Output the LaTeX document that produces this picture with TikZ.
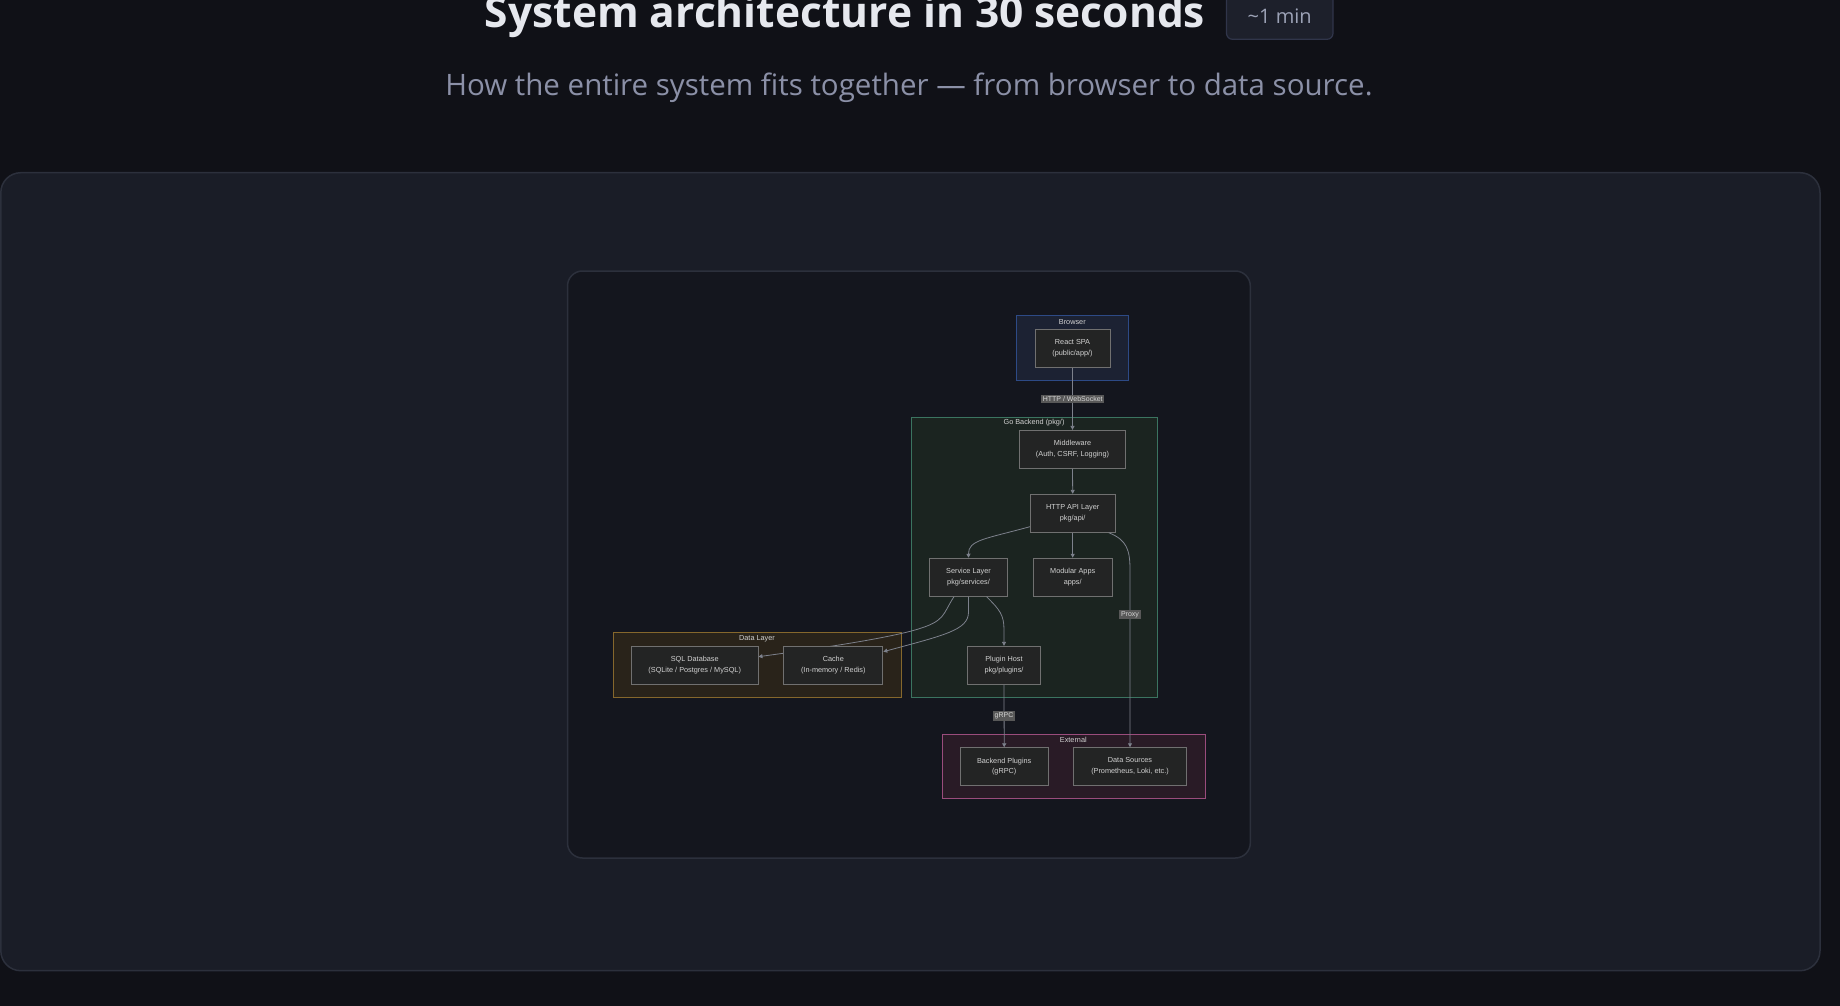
\documentclass[tikz,border=0pt]{standalone}
\usepackage{fontspec}
\setmainfont{Open Sans}
\newfontfamily\dfont{Liberation Sans}
\usetikzlibrary{arrows.meta}
\definecolor{pagebg}{HTML}{101117}
\definecolor{panel}{HTML}{1A1D27}
\definecolor{panelborder}{HTML}{2C303C}
\definecolor{innerbg}{HTML}{14161E}
\definecolor{browserfill}{HTML}{1C2233}
\definecolor{browserborder}{HTML}{2D4A86}
\definecolor{gofill}{HTML}{1B2420}
\definecolor{goborder}{HTML}{3B7460}
\definecolor{datafill}{HTML}{29231A}
\definecolor{databorder}{HTML}{85672C}
\definecolor{extfill}{HTML}{291B26}
\definecolor{extborder}{HTML}{9A4C7C}
\definecolor{nodefill}{HTML}{232424}
\definecolor{nodeborder}{HTML}{707070}
\definecolor{nodetext}{HTML}{D2D2D2}
\definecolor{edgecol}{HTML}{7D818C}
\definecolor{labelbg}{HTML}{585858}
\definecolor{labeltext}{HTML}{D4D4D4}
\definecolor{titletext}{HTML}{E6E8EE}
\definecolor{subtext}{HTML}{8B90A7}
\definecolor{badgefill}{HTML}{1D202B}
\definecolor{badgeborder}{HTML}{30354A}
\definecolor{badgetext}{HTML}{9CA2B6}
\tikzset{
  nodebox/.style={draw=nodeborder, fill=nodefill, line width=0.9pt, text=nodetext,
    font=\dfont\fontsize{7.3}{10.7}\selectfont, align=center, inner sep=0pt,
    minimum height=38pt},
  grpbox/.style={line width=1pt, inner sep=0pt},
  grptitle/.style={text=nodetext, font=\dfont\fontsize{7.3}{9}\selectfont, inner sep=0pt},
  edge/.style={draw=edgecol, line width=0.8pt, -{Triangle[length=4pt,width=4pt]}},
  elabel/.style={fill=labelbg, text=labeltext, font=\dfont\fontsize{7}{8}\selectfont,
    inner sep=1.6pt}
}
\begin{document}
\begin{tikzpicture}[x=1pt,y=-1pt]
\useasboundingbox (0,0) rectangle (1840,1006);
\fill[pagebg] (0,0) rectangle (1840,1006);
% outer panel
\draw[fill=panel, draw=panelborder, line width=1.5pt, rounded corners=20pt] (0.8,172.7) rectangle (1820,970.7);
% inner panel
\draw[fill=innerbg, draw=panelborder, line width=1.5pt, rounded corners=15pt] (567.5,271) rectangle (1250.3,858);
% title
\node[anchor=base, text=titletext, font=\fontsize{42.5}{50}\selectfont\bfseries, inner sep=0pt] (title) at (845,28) {System architecture in 30 seconds};
\draw[fill=badgefill, draw=badgeborder, line width=1.2pt, rounded corners=6pt] (1226.5,-10) rectangle (1333,39.3);
\node[text=badgetext, font=\fontsize{20}{24}\selectfont, inner sep=0pt] (badge) at (1279.7,16) {\char`~1 min};
\node[text=subtext, font=\fontsize{29.5}{35}\selectfont, inner sep=0pt] (subtitle) at (909,88) {How the entire system fits together — from browser to data source.};
% groups
\node[grpbox, draw=browserborder, fill=browserfill, minimum width=112.7pt, minimum height=64.6pt] (gbrowser) at (1072.35,348) {};
\node[grpbox, draw=goborder, fill=gofill, minimum width=245.6pt, minimum height=280pt] (gback) at (1034.5,557.3) {};
\node[grpbox, draw=databorder, fill=datafill, minimum width=288.6pt, minimum height=64.6pt] (gdata) at (757.3,665) {};
\node[grpbox, draw=extborder, fill=extfill, minimum width=263pt, minimum height=64pt] (gext) at (1073.5,766.3) {};
\node[grptitle] (tbrowser) at (1072.3,321.7) {Browser};
\node[grptitle] (tback) at (1034,422.7) {Go Backend (pkg/)};
\node[grptitle] (tdata) at (757,638.3) {Data Layer};
\node[grptitle] (text) at (1073.3,740.3) {External};
% node positions
\coordinate (cspa) at (1072.5,348.2);
\coordinate (cmw) at (1072.5,449.3);
\coordinate (capi) at (1072.7,513.3);
\coordinate (csvc) at (968.5,577.2);
\coordinate (capps) at (1072.7,577.2);
\coordinate (csql) at (694.7,665.3);
\coordinate (ccache) at (833.3,665.3);
\coordinate (cplug) at (1004,665.3);
\coordinate (cbp) at (1004.2,766.5);
\coordinate (cds) at (1130,766.5);
% nodes
\node[nodebox, minimum width=75pt] (spa) at (cspa) {React SPA\\(public/app/)};
\node[nodebox, minimum width=106.4pt] (mw) at (cmw) {Middleware\\(Auth, CSRF, Logging)};
\node[nodebox, minimum width=84.7pt] (api) at (capi) {HTTP API Layer\\pkg/api/};
\node[nodebox, minimum width=77.6pt] (svc) at (csvc) {Service Layer\\pkg/services/};
\node[nodebox, minimum width=78.7pt] (apps) at (capps) {Modular Apps\\apps/};
\node[nodebox, minimum width=126.6pt] (sql) at (csql) {SQL Database\\(SQLite / Postgres / MySQL)};
\node[nodebox, minimum width=99.1pt] (cache) at (ccache) {Cache\\(In-memory / Redis)};
\node[nodebox, minimum width=73.1pt] (plug) at (cplug) {Plugin Host\\pkg/plugins/};
\node[nodebox, minimum width=87.7pt, minimum height=37.6pt] (bp) at (cbp) {Backend Plugins\\(gRPC)};
\node[nodebox, minimum width=113.4pt, minimum height=37.6pt] (ds) at (cds) {Data Sources\\(Prometheus, Loki, etc.)};
% edges
\draw[edge] (spa.south) -- (mw.north);
\draw[edge] (mw.south) -- (api.north);
\draw[edge] ([yshift=-13.4pt]api.west) .. controls (985,539) and (968.3,540) .. (svc.north);
\draw[edge] (api.south) -- (apps.north);
\draw[edge] ([xshift=-6.7pt]api.south east) .. controls (1127,540) and (1130,550) .. (1130,570) -- (ds.north);
\draw[edge] ([xshift=-14.5pt]svc.south) .. controls (942,615) and (946,621) .. (915,630) .. controls (880,640) and (800,651) .. ([yshift=8.6pt]sql.east);
\draw[edge] (svc.south) -- (968.5,612) .. controls (968.5,630) and (945,635) .. ([yshift=13.6pt]cache.east);
\draw[edge] ([xshift=18pt]svc.south) .. controls (1000,610) and (1004,615) .. (1004,630) -- (plug.north);
\draw[edge] (plug.south) -- (bp.north);
% redraw boxes crossed by edges so they sit on top
\node[nodebox, minimum width=126.6pt] at (csql) {SQL Database\\(SQLite / Postgres / MySQL)};
\node[nodebox, minimum width=99.1pt] at (ccache) {Cache\\(In-memory / Redis)};
% edge labels
\node[elabel] (lhttp) at (1072.7,398.8) {HTTP / WebSocket};
\node[elabel] (lproxy) at (1130,614.7) {Proxy};
\node[elabel] (lgrpc) at (1004,716) {gRPC};
\end{tikzpicture}
\end{document}
